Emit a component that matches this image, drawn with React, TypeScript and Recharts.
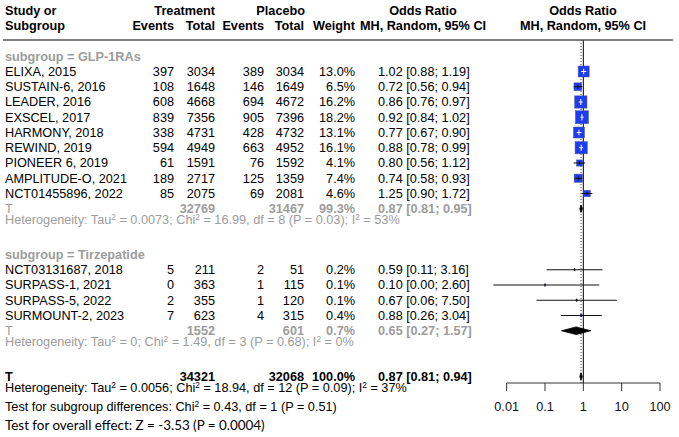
import React from "react";
import { ComposedChart, Scatter, XAxis, YAxis, ReferenceLine } from "recharts";

// GLP-1 receptor agonist trials
const glpStudies = ["ELIXA, 2015", "SUSTAIN-6, 2016", "LEADER, 2016", "EXSCEL, 2017", "HARMONY, 2018", "REWIND, 2019", "PIONEER 6, 2019", "AMPLITUDE-O, 2021", "NCT01455896, 2022"];
const glpTrtEvents = [397, 108, 608, 839, 338, 594, 61, 189, 85];
const glpTrtTotal = [3034, 1648, 4668, 7356, 4731, 4949, 1591, 2717, 2075];
const glpPboEvents = [389, 146, 694, 905, 428, 663, 76, 125, 69];
const glpPboTotal = [3034, 1649, 4672, 7396, 4732, 4952, 1592, 1359, 2081];
const glpWeight = [13.0, 6.5, 16.2, 18.2, 13.1, 16.1, 4.1, 7.4, 4.6];
const glpOR = [1.02, 0.72, 0.86, 0.92, 0.77, 0.88, 0.8, 0.74, 1.25];
const glpLower = [0.88, 0.56, 0.76, 0.84, 0.67, 0.78, 0.56, 0.58, 0.9];
const glpUpper = [1.19, 0.94, 0.97, 1.02, 0.9, 0.99, 1.12, 0.93, 1.72];

// tirzepatide trials
const tirStudies = ["NCT03131687, 2018", "SURPASS-1, 2021", "SURPASS-5, 2022", "SURMOUNT-2, 2023"];
const tirTrtEvents = [5, 0, 2, 7];
const tirTrtTotal = [211, 363, 355, 623];
const tirPboEvents = [2, 1, 1, 4];
const tirPboTotal = [51, 115, 120, 315];
const tirWeight = [0.2, 0.1, 0.1, 0.4];
const tirOR = [0.59, 0.1, 0.67, 0.88];
const tirLower = [0.11, 0.0045, 0.06, 0.26];
const tirUpper = [3.16, 2.6, 7.5, 3.04];

// pooled estimates: GLP-1RAs, tirzepatide, overall
const pooledTrtTotal = [32769, 1552, 34321];
const pooledPboTotal = [31467, 601, 32068];
const pooledWeight = [99.3, 0.7, 100.0];
const pooledOR = [0.87, 0.65, 0.87];
const pooledLower = [0.81, 0.27, 0.81];
const pooledUpper = [0.95, 1.57, 0.94];

// heterogeneity: GLP-1RAs, tirzepatide, overall
const hetTau2 = ["0.0073", "0", "0.0056"];
const hetChi2 = ["16.99", "1.49", "18.94"];
const hetDf = [8, 3, 12];
const hetP = ["0.03", "0.68", "0.09"];
const hetI2 = [53, 0, 37];

const subgroupChi2 = "0.43";
const subgroupDf = 1;
const subgroupP = "0.51";
const overallZ = "-3.53";
const overallP = "0.0004";

const xTicks = [0.01, 0.1, 1, 10, 100];

// row slots (one per text line)
const GLP_FIRST = 1;
const GLP_TOTAL = 10;
const TIR_FIRST = 14;
const TIR_TOTAL = 18;
const ALL_TOTAL = 21;

const FONT = "'Liberation Sans', Arial, Helvetica, sans-serif";
const FS = 12.7;
const GRAY = "#9c9c9c";
const BLUE = "#1e3cf0";
const SUP = 4;

const fmtCI = (or: number, lo: number, hi: number) => `${or.toFixed(2)} [${lo.toFixed(2)}; ${hi.toFixed(2)}]`;

type Study = { name: string; te: number; tt: number; pe: number; pt: number; w: number; or: number; lo: number; hi: number; row: number };

const studies: Study[] = [
  ...glpStudies.map((name, i) => ({ name, te: glpTrtEvents[i], tt: glpTrtTotal[i], pe: glpPboEvents[i], pt: glpPboTotal[i], w: glpWeight[i], or: glpOR[i], lo: glpLower[i], hi: glpUpper[i], row: GLP_FIRST + i })),
  ...tirStudies.map((name, i) => ({ name, te: tirTrtEvents[i], tt: tirTrtTotal[i], pe: tirPboEvents[i], pt: tirPboTotal[i], w: tirWeight[i], or: tirOR[i], lo: tirLower[i], hi: tirUpper[i], row: TIR_FIRST + i })),
];
const pooledRows = [GLP_TOTAL, TIR_TOTAL, ALL_TOTAL];

type Cell = { t: any; x: number; anchor?: "start" | "middle" | "end"; bold?: boolean; color?: string; font?: string; size?: number };
type Row = { x: number; y: number; cells: Cell[] };

const col = { name: 5, te: 174, tt: 215, pe: 264, pt: 304, w: 355, ci: 378, orHead: 423, plotHead: 583 };

function hetText(i: number) {
  const parts = ["Heterogeneity: Tau", " = " + hetTau2[i] + "; Chi", ` = ${hetChi2[i]}, df = ${hetDf[i]} (P = ${hetP[i]}); I`, ` = ${hetI2[i]}%`];
  return parts.map((p, k) => (
    <React.Fragment key={k}>
      <tspan dy={k === 0 ? 0 : SUP}>{p}</tspan>
      {k < parts.length - 1 && (
        <tspan dy={-SUP} fontSize={8.3}>
          2
        </tspan>
      )}
    </React.Fragment>
  ));
}

function chiText() {
  return (
    <>
      <tspan>Test for subgroup differences: Chi</tspan>
      <tspan dy={-SUP} fontSize={8.3}>
        2
      </tspan>
      <tspan dy={SUP}>{` = ${subgroupChi2}, df = ${subgroupDf} (P = ${subgroupP})`}</tspan>
    </>
  );
}

const tableRows: Row[] = [
  {
    x: 0,
    y: -3,
    cells: [
      { t: "Study or", x: col.name, bold: true },
      { t: "Treatment", x: col.tt, anchor: "end", bold: true },
      { t: "Placebo", x: col.pt + 1, anchor: "end", bold: true },
      { t: "Odds Ratio", x: col.orHead, anchor: "middle", bold: true },
      { t: "Odds Ratio", x: col.plotHead, anchor: "middle", bold: true },
    ],
  },
  {
    x: 0,
    y: -2,
    cells: [
      { t: "Subgroup", x: col.name, bold: true },
      { t: "Events", x: col.te, anchor: "end", bold: true },
      { t: "Total", x: col.tt, anchor: "end", bold: true },
      { t: "Events", x: col.pe, anchor: "end", bold: true },
      { t: "Total", x: col.pt, anchor: "end", bold: true },
      { t: "Weight", x: col.w, anchor: "end", bold: true },
      { t: "MH, Random, 95% CI", x: col.orHead, anchor: "middle", bold: true },
      { t: "MH, Random, 95% CI", x: col.plotHead, anchor: "middle", bold: true },
    ],
  },
  { x: 0, y: GLP_FIRST - 1, cells: [{ t: "subgroup = GLP-1RAs", x: col.name, bold: true, color: GRAY }] },
  { x: 0, y: TIR_FIRST - 1, cells: [{ t: "subgroup = Tirzepatide", x: col.name, bold: true, color: GRAY }] },
  ...studies.map((s) => ({
    x: 0,
    y: s.row,
    cells: [
      { t: s.name, x: col.name },
      { t: String(s.te), x: col.te, anchor: "end" as const },
      { t: String(s.tt), x: col.tt, anchor: "end" as const },
      { t: String(s.pe), x: col.pe, anchor: "end" as const },
      { t: String(s.pt), x: col.pt, anchor: "end" as const },
      { t: s.w.toFixed(1) + "%", x: col.w, anchor: "end" as const },
      { t: fmtCI(s.or, s.lo, s.hi), x: col.ci },
    ],
  })),
  ...pooledRows.map((r, i) => {
    const overall = i === 2;
    const color = overall ? "#000" : GRAY;
    return {
      x: 0,
      y: r,
      cells: [
        { t: "T", x: col.name, bold: overall, color },
        { t: String(pooledTrtTotal[i]), x: col.tt, anchor: "end" as const, bold: true, color },
        { t: String(pooledPboTotal[i]), x: col.pt, anchor: "end" as const, bold: true, color },
        { t: pooledWeight[i].toFixed(1) + "%", x: col.w, anchor: "end" as const, bold: true, color },
        { t: fmtCI(pooledOR[i], pooledLower[i], pooledUpper[i]), x: col.ci, bold: true, color },
      ],
    };
  }),
  ...pooledRows.map((r, i) => ({ x: 0, y: r + 1, cells: [{ t: hetText(i), x: col.name, color: i === 2 ? "#000" : GRAY }] })),
  { x: 0, y: ALL_TOTAL + 2, cells: [{ t: chiText(), x: col.name }] },
  { x: 0, y: ALL_TOTAL + 3.18, cells: [{ t: `Test for overall effect: Z = ${overallZ} (P = ${overallP})`, x: col.name, font: "Lato, 'Open Sans', sans-serif", size: 13.4 }] },
];

const renderRow = (props: any) => {
  const { cy, payload } = props;
  return (
    <g>
      {payload.cells.map((c: Cell, i: number) => (
        <text
          key={i}
          x={c.x}
          y={cy}
          dy="0.35em"
          textAnchor={c.anchor ?? "start"}
          fontFamily={c.font ?? FONT}
          fontSize={c.size ?? FS}
          fontWeight={c.bold ? 700 : 400}
          fill={c.color ?? "#000"}
        >
          {c.t}
        </text>
      ))}
    </g>
  );
};

const squareSide = (w: number) => Math.max(1.4, 3.05 * Math.sqrt(w));

const squareShape = (props: any) => {
  const { cx, cy, payload } = props;
  const s = squareSide(payload.w);
  return <rect x={cx - s / 2} y={cy - s / 2} width={s} height={s} fill={BLUE} stroke="#4a5a9a" strokeWidth={0.5} />;
};

const empty = () => <g />;

// CI lines: white when they sit inside a big square, black otherwise
const ciData = (s: Study) => [
  { x: s.lo, y: s.row },
  { x: s.or, y: s.row, mid: true, w: s.w },
  { x: s.hi, y: s.row },
];
const ciColor = (s: Study) => (s.w >= 10 ? "#fff" : "#111");

const diamondData = (i: number) => {
  const r = pooledRows[i];
  const h = 0.25;
  return [
    { x: pooledLower[i], y: r },
    { x: pooledOR[i], y: r - h },
    { x: pooledUpper[i], y: r },
    { x: pooledOR[i], y: r + h },
    { x: pooledLower[i], y: r },
  ];
};

const AXIS_ROW = 21.4262;

export default function App() {
  return (
    <div style={{ position: "absolute", left: 0, top: 0, width: 679, height: 437, background: "#fff" }}>
      <div style={{ position: "absolute", left: 0, top: 0 }}>
        <ComposedChart width={679} height={437} margin={{ top: 40, right: 19, bottom: 0, left: 491.4 }}>
          <XAxis
            type="number"
            dataKey="x"
            scale="log"
            domain={[0.004, 100]}
            ticks={xTicks}
            interval={0}
            axisLine={false}
            tickLine={{ stroke: "#333" }}
            tickSize={8}
            tickMargin={11}
            height={54}
            tick={{ fontSize: FS, fill: "#111", fontFamily: FONT }}
            tickFormatter={(v: number) => String(v)}
          />
          <YAxis type="number" dataKey="y" domain={[-1.0656, AXIS_ROW]} reversed hide />
          <ReferenceLine x={0.87} stroke="#333" strokeDasharray="1 2" />
          <ReferenceLine x={1} stroke="#000" />
          <ReferenceLine segment={[{ x: 0.01, y: AXIS_ROW }, { x: 100, y: AXIS_ROW }]} stroke="#333" />
          <Scatter data={studies.map((s) => ({ x: s.or, y: s.row, w: s.w }))} shape={squareShape} isAnimationActive={false} />
          {studies.map((s, i) => (
            <Scatter
              key={"ci" + i}
              data={ciData(s)}
              line={{ stroke: ciColor(s), strokeWidth: 1 }}
              lineType="joint"
              isAnimationActive={false}
              shape={(p: any) => {
                if (!p.payload.mid) return <g />;
                const t = Math.max(1.6, squareSide(p.payload.w) * 0.25);
                return <line x1={p.cx} x2={p.cx} y1={p.cy - t} y2={p.cy + t} stroke={ciColor(s)} strokeWidth={1} />;
              }}
            />
          ))}
          {pooledRows.map((_, i) => (
            <Scatter
              key={"dm" + i}
              data={diamondData(i)}
              line={{ stroke: "#000", fill: "#000", strokeWidth: 0.8 }}
              lineType="joint"
              shape={empty}
              isAnimationActive={false}
            />
          ))}
        </ComposedChart>
      </div>
      <div style={{ position: "absolute", left: 0, top: 0, pointerEvents: "none" }}>
        <ComposedChart width={679} height={437} margin={{ top: 0, right: 0, bottom: 0, left: 0 }}>
          <XAxis type="number" dataKey="x" domain={[0, 679]} hide />
          <YAxis type="number" dataKey="y" domain={[-3.6885, 24.9672]} reversed hide />
          <ReferenceLine segment={[{ x: 3, y: -1.0656 }, { x: 673, y: -1.0656 }]} stroke="#555" strokeWidth={1.5} />
          <Scatter data={tableRows} shape={renderRow} isAnimationActive={false} />
        </ComposedChart>
      </div>
    </div>
  );
}
